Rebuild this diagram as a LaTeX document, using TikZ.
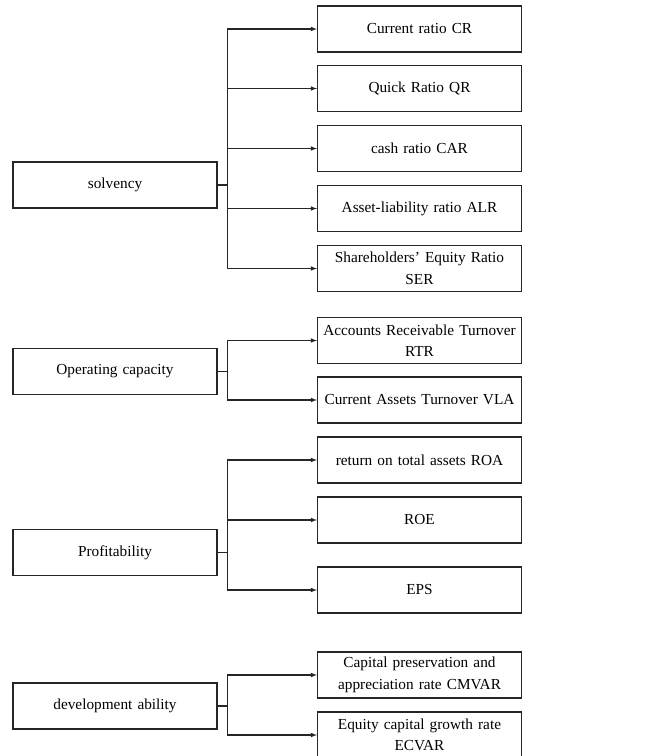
\documentclass[tikz,border=0pt]{standalone}
\usepackage{fontspec}
\setmainfont{Liberation Serif}

\begin{document}
\begin{tikzpicture}[x=1pt,y=-1pt,
    catbox/.style={draw, line width=1.1pt, draw=black!85, minimum width=204pt, minimum height=46pt,
        text width=200pt, align=center, inner sep=0pt, font=\fontsize{15.3}{21.5}\selectfont},
    link/.style={line width=1.1pt, draw=black!85, -latex}]
    \useasboundingbox (0,0) rectangle (645,756);

    % solvency
    \node[catbox] (solv) at (115,185) {solvency};
    \node[catbox] (cr) at (419.5,29) {Current ratio CR};
    \node[catbox] (qr) at (419.5,88.5) {Quick Ratio QR};
    \node[catbox] (car) at (419.5,148.5) {cash ratio CAR};
    \node[catbox] (alr) at (419.5,208.5) {Asset-liability ratio ALR};
    \node[catbox] (ser) at (419.5,268.5) {Shareholders' Equity Ratio\\SER};
    \foreach \t in {cr,qr,car,alr,ser}
        \draw[link] (solv.east) -- ++(10,0) |- (\t.west);

    % operating capacity
    \node[catbox] (oper) at (115,371.5) {Operating capacity};
    \node[catbox] (rtr) at (419.5,340.5) {Accounts Receivable Turnover\\RTR};
    \node[catbox] (vla) at (419.5,400) {Current Assets Turnover VLA};
    \foreach \t in {rtr,vla}
        \draw[link] (oper.east) -- ++(10,0) |- (\t.west);

    % profitability
    \node[catbox] (prof) at (115,552.5) {Profitability};
    \node[catbox] (roa) at (419.5,460) {return on total assets ROA};
    \node[catbox] (roe) at (419.5,520) {ROE};
    \node[catbox] (eps) at (419.5,590) {EPS};
    \foreach \t in {roa,roe,eps}
        \draw[link] (prof.east) -- ++(10,0) |- (\t.west);

    % development ability
    \node[catbox] (devl) at (115,706) {development ability};
    \node[catbox] (cmvar) at (419.5,675) {Capital preservation and\\appreciation rate CMVAR};
    \node[catbox] (ecvar) at (419.5,735) {Equity capital growth rate\\ECVAR};
    \foreach \t in {cmvar,ecvar}
        \draw[link] (devl.east) -- ++(10,0) |- (\t.west);
\end{tikzpicture}
\end{document}
